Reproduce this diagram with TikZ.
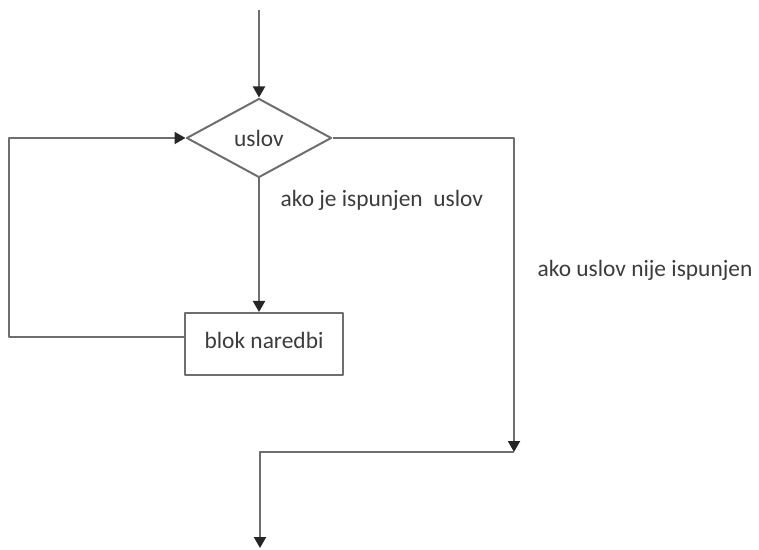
\documentclass[tikz,border=0pt]{standalone}
\usepackage{fontspec}
\setmainfont{Carlito}
\usetikzlibrary{arrows.meta,shapes.geometric}
\definecolor{linegray}{HTML}{6E6E6E}
\definecolor{textgray}{HTML}{3C3C3C}
\begin{document}
\begin{tikzpicture}[x=0.5pt,y=-0.5pt,>={Triangle[width=6pt,length=5.5pt,color=black!85]},
	line width=1pt, line join=round,
	font=\fontsize{11.7}{14}\selectfont,
	every node/.style={text=textgray},
	flow/.style={draw=linegray,->},
	cond/.style={diamond,draw=linegray,fill=white,minimum width=72.5pt,minimum height=39.5pt,inner sep=0pt},
	block/.style={rectangle,draw=linegray,fill=white,minimum width=79pt,minimum height=31pt,inner sep=0pt}]
	\useasboundingbox (0,0) rectangle (759,550);
	
	% cvorovi
	\coordinate (start) at (259,10);
	\node[cond] (uslov) at (259,138) {uslov};
	\node[block] (blok) at (264,344) {\raisebox{3.5pt}{blok naredbi}};
	\coordinate (spoj) at (514,452);
	\coordinate (kraj) at (260,548);
	
	% veze
	\draw[flow] (start) -- (uslov.north);
	\draw[flow] (uslov.south) -- (uslov.south |- blok.north);
	\draw[flow] ([yshift=3.5pt]blok.west) -- ++(-175,0) |- (uslov.west);
	\draw[flow] (uslov.east) -| (spoj);
	\draw[flow] (spoj) -| (kraj);
	
	% natpisi
	\node[anchor=west] (da) at (273,200) {ako je ispunjen\ \ uslov};
	\node[anchor=west] (ne) at (530,270) {ako uslov nije ispunjen};
\end{tikzpicture}
\end{document}
